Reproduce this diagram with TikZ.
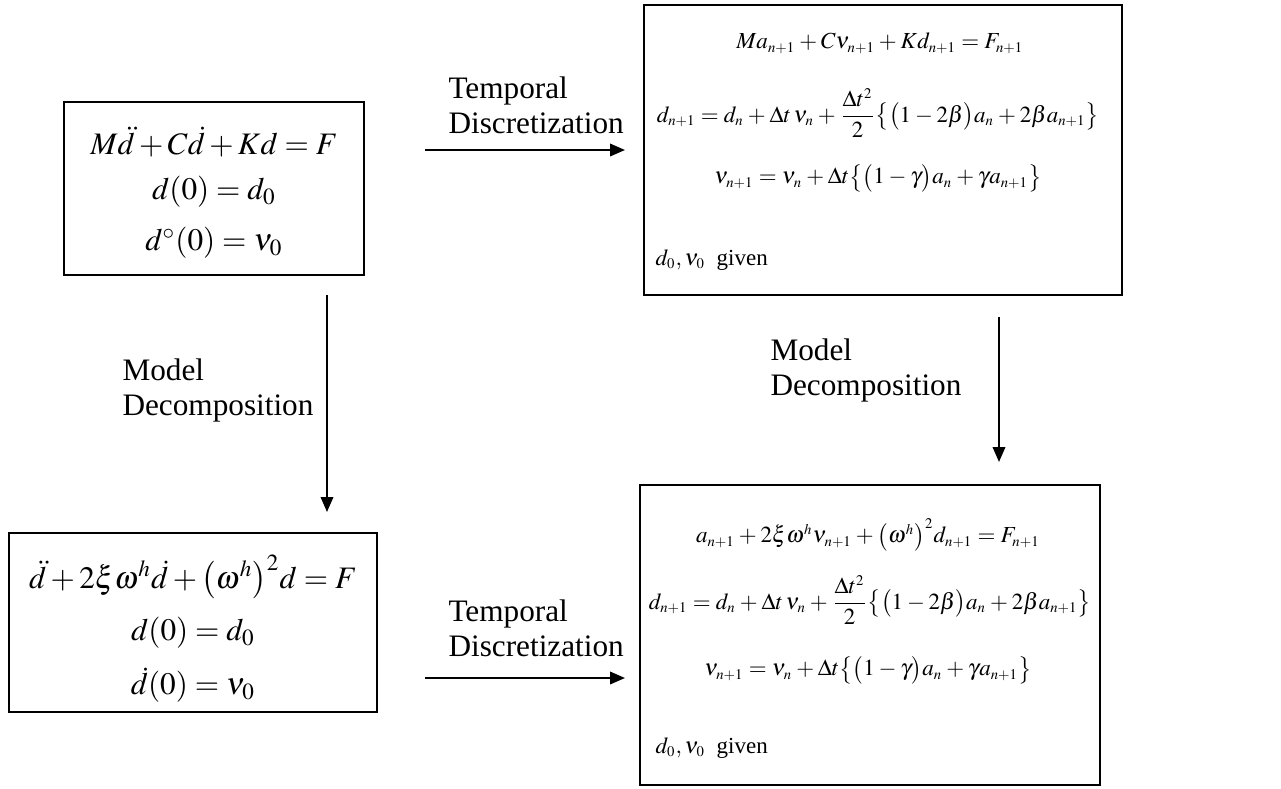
\documentclass[tikz,border=0pt]{standalone}
\usepackage{amsmath}
\usepackage{mathptmx}
\usepackage[no-math]{fontspec}
\setmainfont{Liberation Serif}
\usetikzlibrary{arrows.meta,fit}
\DeclareMathSizes{9.2}{9.2}{5.9}{4.6}
\newcommand{\tightmath}{\medmuskip=3mu\relax\thickmuskip=4mu\relax}

\begin{document}
\begin{tikzpicture}[x=0.4pt,y=-0.4pt,
  box/.style={draw,line width=0.8pt,inner sep=0pt},
  eq/.style={inner sep=0pt,font=\fontsize{12.5}{15}\selectfont},
  eqs/.style={inner sep=0pt,font=\fontsize{9.2}{11}\selectfont,execute at begin node=\tightmath},
  lbl/.style={inner sep=0pt,align=left,anchor=west,font=\fontsize{12.5}{14}\selectfont},
  arr/.style={line width=0.8pt,-{Triangle[length=6pt,width=5pt]}}]
\useasboundingbox (0,0) rectangle (1281,788);
% the four boxes
\node[box,fit={(64,102) (364,275)}] (cont) {};
\node[box,fit={(644,5) (1122,295)}] (disc) {};
\node[box,fit={(9,533) (377,712)}] (modal) {};
\node[box,fit={(640,485) (1100,785)}] (modaldisc) {};
% continuous problem
\node[eq] (contEq) at (214,142) {$M\ddot{d} + C\dot{d} + Kd = F$};
\node[eq] (contD) at (214,192) {$d(0) = d_0$};
\node[eq] (contV) at (214,243) {$d^{\circ}(0) = \nu_0$};
% discretized problem
\node[eqs] (discEq) at (880,43) {$Ma_{n+1} + C\nu_{n+1} + Kd_{n+1} = F_{n+1}$};
\node[eqs] (discD) at (878,113) {$d_{n+1} = d_n + \Delta t\,\nu_n + \dfrac{\Delta t^2}{2}\bigl\{\bigl(1-2\beta\bigr)a_n + 2\beta a_{n+1}\bigr\}$};
\node[eqs] (discV) at (878,178) {$\nu_{n+1} = \nu_n + \Delta t\bigl\{\bigl(1-\gamma\bigr)a_n + \gamma a_{n+1}\bigr\}$};
\node[eqs,anchor=west] (discG) at (655,260) {$d_0,\nu_0$\ \ given};
% modal problem
\node[eq] (modalEq) at (193,577) {$\ddot{d} + 2\xi\omega^h\dot{d} + \bigl(\omega^h\bigr)^2 d = F$};
\node[eq] (modalD) at (193,633) {$d(0) = d_0$};
\node[eq] (modalV) at (193,685) {$\dot{d}(0) = \nu_0$};
% modal discretized problem
\node[eqs] (mdEq) at (868,535) {$a_{n+1} + 2\xi\omega^h\nu_{n+1} + \bigl(\omega^h\bigr)^2 d_{n+1} = F_{n+1}$};
\node[eqs] (mdD) at (870,600) {$d_{n+1} = d_n + \Delta t\,\nu_n + \dfrac{\Delta t^2}{2}\bigl\{\bigl(1-2\beta\bigr)a_n + 2\beta a_{n+1}\bigr\}$};
\node[eqs] (mdV) at (868,670) {$\nu_{n+1} = \nu_n + \Delta t\bigl\{\bigl(1-\gamma\bigr)a_n + \gamma a_{n+1}\bigr\}$};
\node[eqs,anchor=west] (mdG) at (655,748) {$d_0,\nu_0$\ \ given};
% labels of the steps
\node[lbl] (tdTop) at (448,105) {Temporal\\Discretization};
\node[lbl] (tdBot) at (448,628) {Temporal\\Discretization};
\node[lbl] (mdLeft) at (122,390) {Model\\Decomposition};
\node[lbl] (mdRight) at (770,370) {Model\\Decomposition};
% arrows
\coordinate (tdTopS) at (425,150);
\coordinate (tdTopE) at (625,150);
\coordinate (tdBotS) at (425,678);
\coordinate (tdBotE) at (625,678);
\coordinate (mdLeftS) at (327,295);
\coordinate (mdLeftE) at (327,512);
\coordinate (mdRightS) at (999,317);
\coordinate (mdRightE) at (999,462);
\draw[arr] (tdTopS) -- (tdTopE);
\draw[arr] (tdBotS) -- (tdBotE);
\draw[arr] (mdLeftS) -- (mdLeftE);
\draw[arr] (mdRightS) -- (mdRightE);
\end{tikzpicture}
\end{document}
